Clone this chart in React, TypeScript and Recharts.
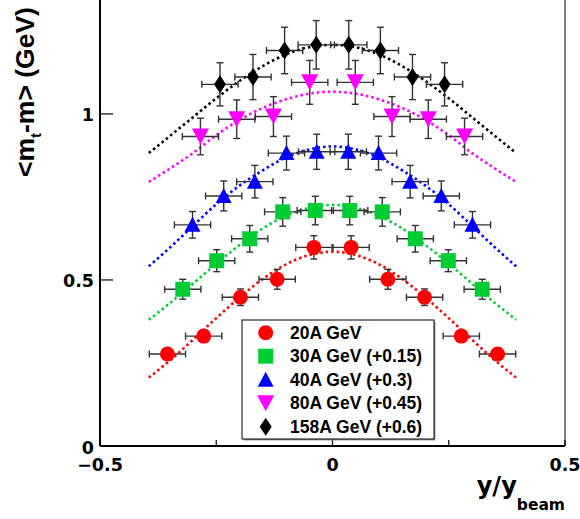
import React from "react";
import {
  ComposedChart,
  XAxis,
  YAxis,
  Line,
  Scatter,
  ErrorBar,
  ReferenceLine,
} from "recharts";

// points, mean m_t - m vs y/y_beam (offsets already added)
const X_ERR = 0.039;

const X_20 = [-0.355, -0.277, -0.198, -0.119, -0.04, 0.04, 0.119, 0.198, 0.277, 0.355];
const Y_20 = [0.277, 0.331, 0.448, 0.502, 0.598, 0.598, 0.502, 0.448, 0.331, 0.277];
const EY_20 = [0.01, 0.015, 0.025, 0.03, 0.035, 0.035, 0.03, 0.025, 0.015, 0.01];

const X_30 = [-0.322, -0.249, -0.178, -0.107, -0.037, 0.037, 0.107, 0.178, 0.249, 0.322];
const Y_30 = [0.472, 0.558, 0.624, 0.705, 0.709, 0.709, 0.705, 0.624, 0.558, 0.472];
const EY_30 = [0.03, 0.033, 0.04, 0.043, 0.043, 0.043, 0.043, 0.04, 0.033, 0.03];

const X_40 = [-0.301, -0.234, -0.167, -0.099, -0.034, 0.034, 0.099, 0.167, 0.234, 0.301];
const Y_40 = [0.666, 0.753, 0.796, 0.882, 0.886, 0.886, 0.882, 0.796, 0.753, 0.666];
const EY_40 = [0.04, 0.045, 0.049, 0.051, 0.053, 0.053, 0.051, 0.049, 0.045, 0.04];

const X_80 = [-0.284, -0.206, -0.127, -0.049, 0.049, 0.128, 0.206, 0.284];
const Y_80 = [0.932, 0.984, 0.992, 1.095, 1.095, 0.992, 0.984, 0.932];
const EY_80 = [0.055, 0.058, 0.06, 0.066, 0.066, 0.06, 0.058, 0.055];

const X_158 = [-0.242, -0.171, -0.103, -0.035, 0.035, 0.103, 0.172, 0.241];
const Y_158 = [1.089, 1.111, 1.191, 1.208, 1.208, 1.191, 1.111, 1.089];
const EY_158 = [0.065, 0.068, 0.07, 0.073, 0.073, 0.07, 0.068, 0.065];

// dotted fit curves, sampled by eye
const CURVE_X = [-0.395, -0.35, -0.3, -0.25, -0.2, -0.15, -0.1, -0.05, 0, 0.05, 0.1, 0.15, 0.2, 0.25, 0.3, 0.35, 0.395];
const FIT_20 = [0.206, 0.257, 0.32, 0.385, 0.447, 0.503, 0.547, 0.575, 0.585, 0.575, 0.547, 0.503, 0.447, 0.385, 0.32, 0.257, 0.206];
const FIT_30 = [0.38, 0.43, 0.489, 0.549, 0.605, 0.655, 0.693, 0.717, 0.726, 0.717, 0.693, 0.655, 0.605, 0.549, 0.489, 0.43, 0.38];
const FIT_40 = [0.541, 0.597, 0.663, 0.728, 0.784, 0.83, 0.869, 0.893, 0.902, 0.893, 0.869, 0.83, 0.784, 0.728, 0.663, 0.597, 0.541];
const FIT_80 = [0.795, 0.835, 0.882, 0.936, 0.982, 1.018, 1.044, 1.061, 1.067, 1.061, 1.044, 1.018, 0.982, 0.936, 0.882, 0.835, 0.795];
const FIT_158 = [0.882, 0.933, 0.99, 1.047, 1.099, 1.144, 1.179, 1.201, 1.208, 1.201, 1.179, 1.144, 1.099, 1.047, 0.99, 0.933, 0.882];

const X_TICKS = [-0.5, -0.25, 0, 0.25, 0.5];
const X_TICK_LABELS: Record<string, string> = { "-0.5": "\u22120.5", "0": "0", "0.5": "0.5" };
const Y_TICKS = [0, 0.5, 1];
const Y_TICK_LABELS: Record<string, string> = { "0": "0", "0.5": "0.5", "1": "1" };

const LEGEND_LABELS = [
  "20A GeV",
  "30A GeV (+0.15)",
  "40A GeV (+0.3)",
  "80A GeV (+0.45)",
  "158A GeV (+0.6)",
];

type Kind = "circle" | "square" | "up" | "down" | "diamond";

const SERIES: { key: string; color: string; kind: Kind; xs: number[]; ys: number[]; eys: number[]; fit: number[] }[] = [
  { key: "e20", color: "#ff0000", kind: "circle", xs: X_20, ys: Y_20, eys: EY_20, fit: FIT_20 },
  { key: "e30", color: "#00cc33", kind: "square", xs: X_30, ys: Y_30, eys: EY_30, fit: FIT_30 },
  { key: "e40", color: "#0000ff", kind: "up", xs: X_40, ys: Y_40, eys: EY_40, fit: FIT_40 },
  { key: "e80", color: "#ff00ff", kind: "down", xs: X_80, ys: Y_80, eys: EY_80, fit: FIT_80 },
  { key: "e158", color: "#000000", kind: "diamond", xs: X_158, ys: Y_158, eys: EY_158, fit: FIT_158 },
];

const FONT = "'DejaVu Sans', sans-serif";
const ARIAL = "'Liberation Sans', Arial, sans-serif";

function Marker({ kind, cx, cy, color }: { kind: Kind; cx: number; cy: number; color: string }) {
  switch (kind) {
    case "circle":
      return <circle cx={cx} cy={cy} r={7.5} fill={color} />;
    case "square":
      return <rect x={cx - 7.5} y={cy - 7.5} width={15} height={15} fill={color} />;
    case "up":
      return <polygon points={`${cx},${cy - 8} ${cx - 8},${cy + 7} ${cx + 8},${cy + 7}`} fill={color} />;
    case "down":
      return <polygon points={`${cx - 8.5},${cy - 8} ${cx + 8.5},${cy - 8} ${cx},${cy + 8}`} fill={color} />;
    default:
      return <polygon points={`${cx},${cy - 9} ${cx + 6},${cy} ${cx},${cy + 9} ${cx - 6},${cy}`} fill={color} />;
  }
}

// eslint-disable-next-line @typescript-eslint/no-explicit-any
function XTick(props: any) {
  const { x, y, payload } = props;
  const lbl = X_TICK_LABELS[String(payload.value)];
  return (
    <g>
      <line x1={x} x2={x} y1={y} y2={y - 6} stroke="#000" strokeWidth={1.2} />
      {lbl && (
        <text x={x} y={y + 25} textAnchor="middle" fontFamily={FONT} fontWeight="bold" fontSize={17.5} fill="#000">
          {lbl}
        </text>
      )}
    </g>
  );
}

// eslint-disable-next-line @typescript-eslint/no-explicit-any
function YTick(props: any) {
  const { x, y, payload } = props;
  const lbl = Y_TICK_LABELS[String(payload.value)];
  return (
    <g>
      <line x1={x} x2={x + 13} y1={y} y2={y} stroke="#000" strokeWidth={1.2} />
      <text x={x - 6} y={y + 7.5} textAnchor="end" fontFamily={FONT} fontWeight="bold" fontSize={17.5} fill="#000">
        {lbl}
      </text>
    </g>
  );
}

export default function App() {
  const points = SERIES.map((s) =>
    s.xs.map((x, i) => ({ x, y: s.ys[i], ex: X_ERR, ey: s.eys[i] }))
  );
  const curves = SERIES.map((s) => CURVE_X.map((x, i) => ({ x, y: s.fit[i] })));

  return (
    <div style={{ position: "absolute", left: 0, top: 0, width: 580, height: 519, background: "#fff" }}>
      <ComposedChart width={580} height={519} margin={{ top: 0, right: 15, bottom: 0, left: 0 }}>
        <XAxis
          type="number"
          dataKey="x"
          domain={[-0.5, 0.5]}
          ticks={X_TICKS}
          allowDataOverflow
          interval={0}
          height={73}
          tickSize={0}
          tickMargin={0}
          tickLine={false}
          tick={<XTick />}
          axisLine={{ stroke: "#000", strokeWidth: 2 }}
        />
        <YAxis
          type="number"
          dataKey="y"
          domain={[0, 1.343]}
          ticks={Y_TICKS}
          allowDataOverflow
          interval={0}
          width={100}
          tickSize={0}
          tickMargin={0}
          tickLine={false}
          tick={<YTick />}
          axisLine={{ stroke: "#000", strokeWidth: 2 }}
        />
        <ReferenceLine x={0.5} stroke="#555" strokeWidth={1.5} />

        {SERIES.map((s, i) => (
          <Line
            key={`fit-${s.key}`}
            data={curves[i]}
            dataKey="y"
            type="monotone"
            stroke={s.color}
            strokeWidth={2.6}
            strokeDasharray="2.5 3"
            dot={false}
            activeDot={false}
            isAnimationActive={false}
          />
        ))}

        {SERIES.map((s, i) => (
          <Scatter
            key={`pts-${s.key}`}
            data={points[i]}
            dataKey="y"
            isAnimationActive={false}
            // eslint-disable-next-line @typescript-eslint/no-explicit-any
            shape={(p: any) => <Marker kind={s.kind} cx={p.cx} cy={p.cy} color={s.color} />}
          >
            <ErrorBar dataKey="ex" direction="x" width={3.5} stroke="#333" strokeWidth={1.4} />
            <ErrorBar dataKey="ey" direction="y" width={3.5} stroke="#333" strokeWidth={1.4} />
          </Scatter>
        ))}
      </ComposedChart>

      <svg width={580} height={519} style={{ position: "absolute", left: 0, top: 0, pointerEvents: "none" }}>
        {/* axis titles */}
        <text
          transform="translate(34,177) rotate(-90)"
          fontFamily={ARIAL}
          fontWeight="bold"
          fontSize={26.5}
          fill="#000"
        >
          {"<m"}
          <tspan fontSize={15} dy={7}>t</tspan>
          <tspan dy={-7}>{"-m> (GeV)"}</tspan>
        </text>
        <text x={565} y={494} textAnchor="end" fontFamily={FONT} fontWeight="bold" fontSize={24} fill="#000">
          y/y
          <tspan fontSize={15.5} dy={16}>beam</tspan>
        </text>

        {/* legend */}
        <rect x={243.5} y={321.5} width={192} height={119} fill="#999" />
        <rect x={242} y={320} width={192} height={119} fill="#fff" stroke="#000" strokeWidth={1} />
        {SERIES.map((s, i) => {
          const cy = 332.7 + i * 23.5;
          return (
            <g key={`leg-${s.key}`}>
              <Marker kind={s.kind} cx={265.7} cy={cy} color={s.color} />
              <text x={290} y={cy + 5.8} fontFamily={ARIAL} fontWeight="bold" fontSize={17.5} fill="#000">
                {LEGEND_LABELS[i]}
              </text>
            </g>
          );
        })}
      </svg>
    </div>
  );
}
